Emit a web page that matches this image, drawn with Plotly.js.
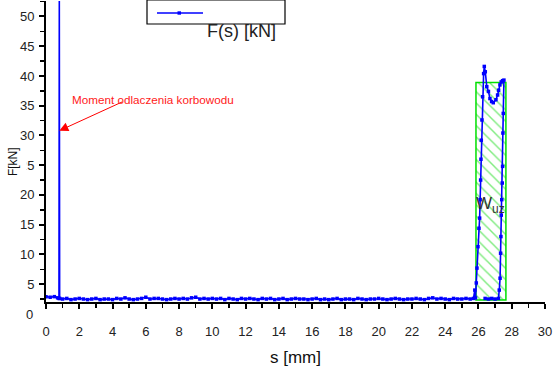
<!DOCTYPE html>
<html>
<head>
<meta charset="utf-8">
<script src="https://cdn.plot.ly/plotly-3.0.1.min.js"></script>
<style>html,body{margin:0;padding:0;background:#fff;}#chart{width:553px;height:372px;}</style>
</head>
<body>
<div id="chart"></div>
<script>
// ---- data ----
const sBase = [0,0.25,0.5,0.7,0.78,0.8,0.82,
  1,1.25,1.5,1.75,2,2.25,2.5,2.75,3,3.25,
  3.5,3.75,4,4.25,4.5,4.75,5,5.25,5.5,5.75,
  6,6.25,6.5,6.75,7,7.25,7.5,7.75,8,8.25,
  8.5,8.75,9,9.25,9.5,9.75,10,10.25,10.5,10.75,
  11,11.25,11.5,11.75,12,12.25,12.5,12.75,13,13.25,
  13.5,13.75,14,14.25,14.5,14.75,15,15.25,15.5,15.75,
  16,16.25,16.5,16.75,17,17.25,17.5,17.75,18,18.25,
  18.5,18.75,19,19.25,19.5,19.75,20,20.25,20.5,20.75,
  21,21.25,21.5,21.75,22,22.25,22.5,22.75,23,23.25,
  23.5,23.75,24,24.25,24.5,24.75,25,25.25,25.5,25.7];
const fBase = [2.9,2.8,2.9,2.7,2.6,53,2.6,
  2.5,2.6,2.4,2.5,2.6,2.5,2.4,2.5,2.6,2.4,
  2.5,2.5,2.4,2.6,2.5,2.7,2.5,2.4,2.5,2.6,
  2.8,2.5,2.6,2.6,2.5,2.4,2.5,2.6,2.5,2.6,
  2.5,2.7,2.8,2.5,2.6,2.5,2.6,2.5,2.6,2.4,
  2.6,2.5,2.4,2.6,2.5,2.6,2.5,2.4,2.6,2.5,
  2.6,2.4,2.5,2.6,2.4,2.5,2.6,2.5,2.5,2.4,
  2.5,2.6,2.4,2.5,2.4,2.5,2.6,2.4,2.5,2.5,
  2.4,2.6,2.5,2.4,2.5,2.5,2.6,2.5,2.4,2.5,
  2.6,2.5,2.4,2.5,2.5,2.6,2.5,2.4,2.6,2.7,
  2.5,2.6,2.5,2.4,2.6,2.5,2.5,2.6,2.5,2.6];
const sPeak = [25.78,25.82,25.87,25.91,25.97,26.03,26.07,26.1,26.13,26.15,
  26.17,26.21,26.25,26.31,26.35,26.41,26.5,26.6,26.69,26.79,
  26.89,27.05,27.15,27.21,27.29,27.37,27.45,27.53,27.49,27.47,
  27.45,27.43,27.4,27.37,27.35,27.33,27.3,27.25,27.2,27.0,
  26.8,26.6,26.4];
const fPeak = [4.0,2.7,5.2,7.7,11.3,14.4,16.1,19.2,22.5,26.0,
  29.2,32.6,36.5,40.4,41.6,40.7,38.2,37.4,36.2,35.7,
  35.5,36.0,36.8,37.6,38.5,39.0,39.2,39.3,33.7,30.4,
  24.8,22.0,19.2,16.6,13.0,10.2,6.0,4.0,2.6,2.5,
  2.6,2.5,2.6];
// work area W_uz (hatched rectangle): s limits and F limits
const wuzS = [25.85, 27.65];
const wuzF = [2.35, 38.9];
const xTicks = [0,2,4,6,8,10,12,14,16,18,20,22,24,26,28,30];
const yTicks = [5,10,15,20,25,30,35,40,45,50];
const seriesName = 'F(s) [kN]';
const noteText = 'Moment odlaczenia korbowodu';
const arrowHead = {s: 0.8, F: 30.8};

// ---- layout helpers (pixel -> paper) ----
const L = 46, R = 545, T = 1, B = 302;
const px = x => (x - L) / (R - L);
const py = y => (B - y) / (B - T);
const FONT = 'Liberation Sans, Arial, sans-serif';
const blue = '#0000ff';

const traces = [
  {
    type: 'bar',
    x: [(wuzS[0] + wuzS[1]) / 2],
    y: [wuzF[1] - wuzF[0]],
    base: [wuzF[0]],
    width: [wuzS[1] - wuzS[0]],
    marker: {
      color: 'rgba(0,0,0,0)',
      line: {color: '#00e000', width: 1.5},
      pattern: {shape: '\\', fgcolor: '#00d800', bgcolor: 'rgba(0,0,0,0)', size: 8, solidity: 0.18, fillmode: 'overlay'}
    },
    showlegend: false,
    hoverinfo: 'skip'
  },
  {
    type: 'scatter',
    mode: 'lines+markers',
    name: seriesName,
    x: sBase.concat(sPeak),
    y: fBase.concat(fPeak),
    line: {color: blue, width: 1.6},
    marker: {symbol: 'square', size: 3.5, color: blue},
    showlegend: false,
    cliponaxis: true
  }
];

const layout = {
  width: 553, height: 372,
  margin: {l: L, r: 553 - R, t: T, b: 372 - B, pad: 0},
  paper_bgcolor: '#fff', plot_bgcolor: '#fff',
  font: {family: FONT, size: 13, color: '#222'},
  showlegend: false,
  bargap: 0,
  xaxis: {
    range: [0, 30],
    tickvals: xTicks,
    ticktext: xTicks.map(String),
    ticks: 'outside', ticklen: 5, tickwidth: 2, tickcolor: '#000',
    minor: {dtick: 1, ticks: 'outside', ticklen: 4, tickwidth: 1.5, tickcolor: '#000'},
    showline: true, linecolor: '#000', linewidth: 2,
    showgrid: false, zeroline: false,
    ticklabelstandoff: 11,
    tickfont: {family: FONT, size: 13, color: '#222'},
    title: {text: 's [mm]', font: {family: FONT, size: 17, color: '#111'}, standoff: 14}
  },
  yaxis: {
    range: [2, 52.6],
    tickvals: yTicks,
    ticktext: yTicks.map(String),
    ticks: 'outside', ticklen: 5, tickwidth: 2, tickcolor: '#000',
    minor: {dtick: 2.5, ticks: 'outside', ticklen: 4, tickwidth: 1.5, tickcolor: '#000'},
    showline: true, linecolor: '#000', linewidth: 2,
    showgrid: false, zeroline: false,
    ticklabelstandoff: 2,
    tickfont: {family: FONT, size: 13, color: '#222'}
  },
  shapes: [
    // legend box
    {type: 'rect', xref: 'paper', yref: 'paper', x0: px(147), x1: px(285), y0: py(24), y1: py(0),
     line: {color: '#000', width: 1.2}, fillcolor: '#fff', layer: 'above'},
    {type: 'line', xref: 'paper', yref: 'paper', x0: px(157), x1: px(203), y0: py(13), y1: py(13),
     line: {color: blue, width: 1.5}, layer: 'above'},
    {type: 'rect', xref: 'paper', yref: 'paper', x0: px(177.5), x1: px(181), y0: py(14.7), y1: py(11.3),
     line: {width: 0}, fillcolor: blue, layer: 'above'},
    // arrow shaft of the note
    {type: 'line', xref: 'paper', yref: 'paper', x0: px(122), y0: py(102), x1: px(63), y1: py(129),
     line: {color: '#ff0000', width: 1}, layer: 'above'},
    // white mask: the y-title box hides the "2" of the 25 label in the original
    {type: 'rect', xref: 'paper', yref: 'paper', x0: px(18), x1: px(26.8), y0: py(172), y1: py(158),
     line: {width: 0}, fillcolor: '#fff', layer: 'above'}
  ],
  annotations: [
    // legend label (outside box, as in the original)
    {xref: 'paper', yref: 'paper', x: px(241.5), y: py(31), text: seriesName, showarrow: false,
     font: {family: FONT, size: 18, color: '#222'}, xanchor: 'center', yanchor: 'middle'},
    // y-axis title
    {xref: 'paper', yref: 'y', x: px(12.5), y: 25.6, text: 'F[kN]', textangle: -90, showarrow: false,
     font: {family: FONT, size: 12, color: '#111'}, bgcolor: '#fff', borderpad: 0,
     xanchor: 'center', yanchor: 'middle'},
    // the "0" tick label drawn under the x axis
    {xref: 'paper', yref: 'paper', x: px(34.5), y: py(314), text: '0', showarrow: false,
     font: {family: FONT, size: 13, color: '#222'}, xanchor: 'right', yanchor: 'middle'},
    // red arrow head at the spike
    {xref: 'x', yref: 'y', x: arrowHead.s, y: arrowHead.F, text: '', showarrow: true,
     ax: 8, ay: -3.7, arrowcolor: '#ff0000', arrowwidth: 1.2, arrowhead: 2, arrowsize: 1.5, standoff: 0},
    {xref: 'paper', yref: 'paper', x: px(152.5), y: py(99), text: noteText, showarrow: false,
     font: {family: FONT, size: 11.7, color: '#ff1a1a'}, xanchor: 'center', yanchor: 'middle'},
    // W_uz label
    {xref: 'x', yref: 'y', x: 26.75, y: 18.3, text: 'W<sub>uz</sub>', showarrow: false,
     font: {family: FONT, size: 17, color: '#333'}, xanchor: 'center', yanchor: 'middle'}
  ]
};

Plotly.newPlot('chart', traces, layout, {displayModeBar: false, staticPlot: true});
</script>
</body>
</html>
